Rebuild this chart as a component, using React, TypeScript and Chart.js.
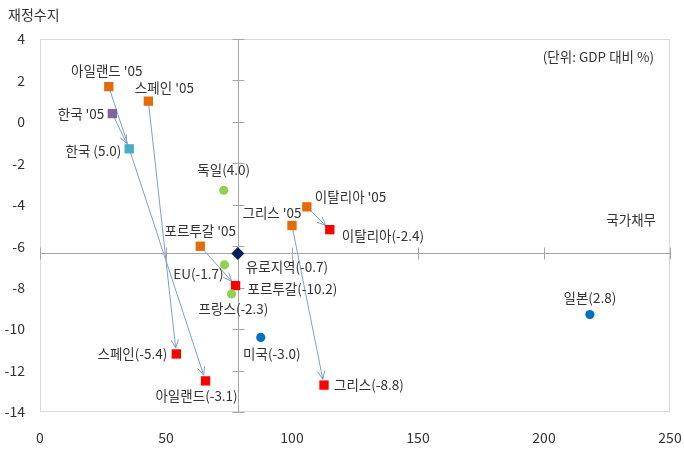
import React, { useEffect, useRef } from 'react';
import { Chart, registerables } from 'chart.js';
Chart.register(...registerables);

// ---- data ----
const names = [
  "아일랜드 '05", "스페인 '05", "한국 '05", '한국 (5.0)', '독일(4.0)', "이탈리아 '05",
  "그리스 '05", '이탈리아(-2.4)', "포르투갈 '05", '유로지역(-0.7)', 'EU(-1.7)',
  '포르투갈(-10.2)', '프랑스(-2.3)', '미국(-3.0)', '스페인(-5.4)', '아일랜드(-3.1)',
  '그리스(-8.8)', '일본(2.8)',
];
const debt = [27.3, 43.0, 28.7, 35.4, 72.9, 105.9, 100.0, 115.0, 63.6, 78.5, 73.2, 77.6, 76.0, 87.6, 54.1, 65.7, 112.7, 218.2];
const balance = [1.7, 1.0, 0.4, -1.3, -3.3, -4.1, -5.0, -5.2, -6.0, -6.35, -6.9, -7.9, -8.3, -10.4, -11.2, -12.5, -12.7, -9.3];
const kinds = ['y05', 'y05', 'kr05', 'kr', 'green', 'y05', 'y05', 'now', 'y05', 'euro', 'green', 'now', 'green', 'blue', 'now', 'now', 'now', 'blue'];
const arrowFrom = [0, 1, 2, 5, 6, 8];
const arrowTo = [15, 14, 3, 7, 16, 11];
const crossIndex = 9;
const xTicks = [0, 50, 100, 150, 200, 250];
const yTicks = [4, 2, 0, -2, -4, -6, -8, -10, -12, -14];
const yTitle = '재정수지';
const xTitle = '국가채무';
const unitNote = '(단위: GDP 대비 %)';

// ---- styles ----
const kindStyle: Record<string, { color: string; style: string; r: number }> = {
  y05: { color: '#E36C0A', style: 'rect', r: 6.6 },
  now: { color: '#FF0000', style: 'rect', r: 6.6 },
  kr05: { color: '#8064A2', style: 'rect', r: 6.6 },
  kr: { color: '#4BACC6', style: 'rect', r: 6.6 },
  green: { color: '#92D050', style: 'circle', r: 4.6 },
  blue: { color: '#0070C0', style: 'circle', r: 4.6 },
  euro: { color: '#002060', style: 'rectRot', r: 6.5 },
};
// label placement: [dx, dy, align]
const labelPlace: [number, number, CanvasTextAlign][] = [
  [-2, -16, 'center'], [16, -13, 'center'], [-8, 0, 'right'], [-8, 2, 'right'],
  [0, -20, 'center'], [8, -10, 'left'], [-20, -13, 'center'], [12, 6, 'left'],
  [0, -15, 'center'], [8, 13, 'left'], [-1, 9, 'right'], [12, 3, 'left'],
  [2, 15, 'center'], [11, 16, 'center'], [-9, 0, 'right'], [-9, 15, 'center'],
  [10, 0, 'left'], [0, -17, 'center'],
];

const FONT = '"Noto Sans CJK KR", "Noto Sans", sans-serif';
const TEXT = '#333333';

const overlay = {
  id: 'overlay',
  beforeDatasetsDraw(chart: any) {
    const { ctx, chartArea: a, scales } = chart;
    const xs = scales.x, ys = scales.y;
    ctx.save();
    // box
    ctx.strokeStyle = '#D9D9D9';
    ctx.lineWidth = 1;
    ctx.strokeRect(a.left + 0.5, a.top + 0.5, a.right - a.left - 1, a.bottom - a.top - 1);
    // cross lines
    const cx = Math.round(xs.getPixelForValue(debt[crossIndex])) + 0.5;
    const cy = Math.round(ys.getPixelForValue(balance[crossIndex])) + 0.5;
    ctx.strokeStyle = '#A6A6A6';
    ctx.beginPath();
    ctx.moveTo(cx, a.top); ctx.lineTo(cx, a.bottom);
    ctx.moveTo(a.left, cy); ctx.lineTo(a.right, cy);
    yTicks.forEach((t) => {
      const py = Math.round(ys.getPixelForValue(t)) + 0.5;
      ctx.moveTo(cx - 6, py); ctx.lineTo(cx + 6, py);
    });
    xTicks.forEach((t) => {
      const px = Math.round(xs.getPixelForValue(t)) + 0.5;
      ctx.moveTo(px, cy - 6); ctx.lineTo(px, cy + 6);
    });
    ctx.stroke();
    // arrows
    ctx.strokeStyle = '#7BA0CD';
    ctx.lineWidth = 1;
    arrowFrom.forEach((f, i) => {
      const t = arrowTo[i];
      const x1 = xs.getPixelForValue(debt[f]), y1 = ys.getPixelForValue(balance[f]);
      const x2 = xs.getPixelForValue(debt[t]), y2 = ys.getPixelForValue(balance[t]);
      const ang = Math.atan2(y2 - y1, x2 - x1);
      const ex = x2 - Math.cos(ang) * 6, ey = y2 - Math.sin(ang) * 6;
      ctx.beginPath();
      ctx.moveTo(x1, y1); ctx.lineTo(ex, ey);
      const h = 9, sp = 0.42;
      ctx.moveTo(ex - Math.cos(ang - sp) * h, ey - Math.sin(ang - sp) * h);
      ctx.lineTo(ex, ey);
      ctx.lineTo(ex - Math.cos(ang + sp) * h, ey - Math.sin(ang + sp) * h);
      ctx.stroke();
    });
    ctx.restore();
  },
  afterDatasetsDraw(chart: any) {
    const { ctx, chartArea: a, scales } = chart;
    const xs = scales.x, ys = scales.y;
    ctx.save();
    ctx.fillStyle = TEXT;
    ctx.textBaseline = 'middle';
    ctx.font = `13.5px ${FONT}`;
    names.forEach((n, i) => {
      const [dx, dy, al] = labelPlace[i];
      ctx.textAlign = al;
      ctx.fillText(n, xs.getPixelForValue(debt[i]) + dx, ys.getPixelForValue(balance[i]) + dy);
    });
    ctx.font = `13.5px ${FONT}`;
    ctx.textAlign = 'right';
    ctx.fillText(unitNote, a.right - 16, a.top + 18);
    ctx.fillText(xTitle, a.right - 14, 220);
    ctx.font = `14px ${FONT}`;
    ctx.textAlign = 'left';
    ctx.fillText(yTitle, 8, 15);
    ctx.restore();
  },
};

export default function App() {
  const ref = useRef<HTMLCanvasElement>(null);
  useEffect(() => {
    document.body.style.margin = '0';
    const chart = new Chart(ref.current!, {
      type: 'scatter',
      data: {
        datasets: [
          {
            data: debt.map((d, i) => ({ x: d, y: balance[i] })),
            pointStyle: kinds.map((k) => kindStyle[k].style) as any,
            pointRadius: kinds.map((k) => kindStyle[k].r),
            pointHoverRadius: kinds.map((k) => kindStyle[k].r),
            pointBackgroundColor: kinds.map((k) => kindStyle[k].color),
            pointBorderWidth: 0,
            pointBorderColor: 'rgba(0,0,0,0)',
          },
        ],
      },
      options: {
        animation: false,
        responsive: false,
        layout: { padding: { left: 0, right: 14, top: 39, bottom: 0 } },
        plugins: { legend: { display: false }, tooltip: { enabled: false } },
        scales: {
          x: {
            type: 'linear',
            min: 0,
            max: 250,
            afterBuildTicks: (s: any) => { s.ticks = xTicks.map((v) => ({ value: v })); },
            afterFit: (s: any) => { s.height = 39; s.paddingLeft = 0; s.paddingRight = 0; },
            grid: { display: false, drawTicks: false },
            border: { display: false },
            ticks: { padding: 17, color: TEXT, font: { size: 14, family: FONT } },
          },
          y: {
            type: 'linear',
            min: -14,
            max: 4,
            afterBuildTicks: (s: any) => { s.ticks = yTicks.map((v) => ({ value: v })); },
            afterFit: (s: any) => { s.width = 40; s.paddingTop = 0; s.paddingBottom = 0; },
            grid: { display: false, drawTicks: false },
            border: { display: false },
            ticks: { padding: 15, color: TEXT, font: { size: 14, family: FONT } },
          },
        },
      },
      plugins: [overlay],
    });
    return () => chart.destroy();
  }, []);
  return (
    <div style={{ width: 684, height: 451 }}>
      <canvas ref={ref} width={684} height={451} style={{ display: 'block' }} />
    </div>
  );
}
